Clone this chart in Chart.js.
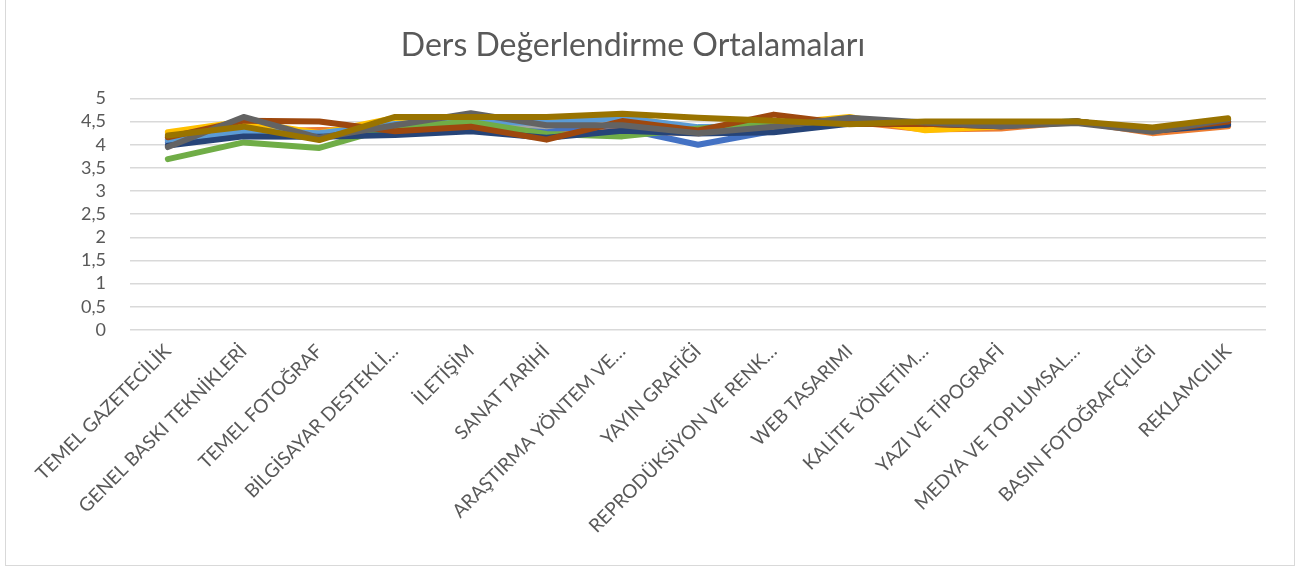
<!DOCTYPE html>
<html lang="tr">
<head>
  <meta charset="UTF-8">
  <title>Ders Değerlendirme Ortalamaları</title>
  <script src="https://cdn.jsdelivr.net/npm/chart.js"></script>
  <style>
    body {
      margin: 0;
      background: #fff;
    }
    #kutu {
      position: relative;
      width: 1312px;
      height: 570px;
    }
    #cerceve {
      position: absolute;
      left: 5px;
      top: -2px;
      width: 1288px;
      height: 566px;
      border: 1.5px solid #d9d9d9;
      pointer-events: none;
    }
  </style>
</head>
<body>

  <div id="kutu">
    <canvas id="grafik" width="1312" height="570"></canvas>
    <div id="cerceve"></div>
  </div>

  <script>
    const dersler = [
      "TEMEL GAZETECİLİK", "GENEL BASKI TEKNİKLERİ", "TEMEL FOTOĞRAF",
      "BİLGİSAYAR DESTEKLİ…", "İLETİŞİM", "SANAT TARİHİ",
      "ARAŞTIRMA YÖNTEM VE…", "YAYIN GRAFİĞİ", "REPRODÜKSİYON VE RENK…",
      "WEB TASARIMI", "KALİTE YÖNETİM…", "YAZI VE TİPOGRAFİ",
      "MEDYA VE TOPLUMSAL…", "BASIN FOTOĞRAFÇILIĞI", "REKLAMCILIK"
    ];

    // ortalamalar (grafikten okunan yaklaşık değerler)
    const seri1  = [4.05, 4.25, 4.25, 4.30, 4.45, 4.31, 4.35, 4.00, 4.30, 4.50, 4.45, 4.45, 4.50, 4.30, 4.45];
    const seri2  = [4.15, 4.29, 4.32, 4.30, 4.40, 4.20, 4.30, 4.25, 4.35, 4.50, 4.33, 4.35, 4.50, 4.25, 4.40];
    const seri3  = [4.10, 4.40, 4.20, 4.40, 4.50, 4.40, 4.62, 4.30, 4.40, 4.50, 4.45, 4.45, 4.50, 4.30, 4.50];
    const seri4  = [4.27, 4.50, 4.25, 4.58, 4.55, 4.55, 4.60, 4.35, 4.45, 4.60, 4.31, 4.40, 4.50, 4.30, 4.55];
    const seri5  = [4.10, 4.30, 4.25, 4.45, 4.50, 4.47, 4.58, 4.38, 4.40, 4.50, 4.45, 4.45, 4.50, 4.30, 4.50];
    const seri6  = [3.69, 4.05, 3.93, 4.40, 4.49, 4.23, 4.18, 4.35, 4.45, 4.45, 4.45, 4.45, 4.50, 4.30, 4.50];
    const seri7  = [3.98, 4.18, 4.17, 4.21, 4.29, 4.15, 4.30, 4.24, 4.27, 4.45, 4.45, 4.40, 4.50, 4.30, 4.43];
    const seri8  = [4.16, 4.52, 4.50, 4.29, 4.39, 4.11, 4.51, 4.31, 4.65, 4.45, 4.45, 4.40, 4.50, 4.30, 4.50];
    const seri9  = [3.95, 4.60, 4.15, 4.42, 4.68, 4.42, 4.42, 4.25, 4.39, 4.58, 4.48, 4.40, 4.47, 4.28, 4.55];
    const seri10 = [4.20, 4.39, 4.10, 4.60, 4.60, 4.60, 4.67, 4.58, 4.52, 4.44, 4.50, 4.50, 4.50, 4.37, 4.57];

    const seriler = [seri1, seri2, seri3, seri4, seri5, seri6, seri7, seri8, seri9, seri10];
    const renkler = ["#4472C4", "#ED7D31", "#A5A5A5", "#FFC000", "#5B9BD5",
                     "#70AD47", "#264478", "#9E480E", "#636363", "#997300"];

    const yazi = "#595959";
    const font = "Lato, 'Open Sans', sans-serif";

    const ctx = document.getElementById("grafik").getContext("2d");
    new Chart(ctx, {
      type: "line",
      data: {
        labels: dersler,
        datasets: seriler.map((s, i) => ({
          label: "Seri " + (i + 1),
          data: s,
          order: seriler.length - i, // son seri en üstte
          borderColor: renkler[i],
          backgroundColor: renkler[i],
          borderWidth: 6,
          pointRadius: 0,
          tension: 0,
          borderJoinStyle: "round",
          borderCapStyle: "round",
          fill: false
        }))
      },
      options: {
        responsive: false,
        animation: false,
        layout: { padding: { left: 0, right: 46, top: 0, bottom: 0 } },
        plugins: {
          legend: { display: false },
          tooltip: { enabled: false },
          title: {
            display: true,
            text: "Ders Değerlendirme Ortalamaları",
            color: yazi,
            font: { family: font, size: 32, weight: "normal" },
            padding: { top: 26, bottom: 34 }
          }
        },
        scales: {
          x: {
            offset: true,
            grid: { display: false },
            border: { display: false },
            ticks: {
              color: yazi,
              font: { family: font, size: 19 },
              minRotation: 45,
              maxRotation: 45,
              autoSkip: false,
              padding: 2
            },
            afterFit: function(s) { s.height = 240; }
          },
          y: {
            min: 0,
            max: 5,
            grid: { color: "#d9d9d9", lineWidth: 1.5, drawTicks: false },
            border: { display: false },
            ticks: {
              stepSize: 0.5,
              autoSkip: false,
              color: yazi,
              font: { family: font, size: 18 },
              padding: 24,
              callback: function(v) { return String(v).replace(".", ","); }
            },
            afterFit: function(s) { s.width = 130; }
          }
        }
      }
    });
  </script>
</body>
</html>
